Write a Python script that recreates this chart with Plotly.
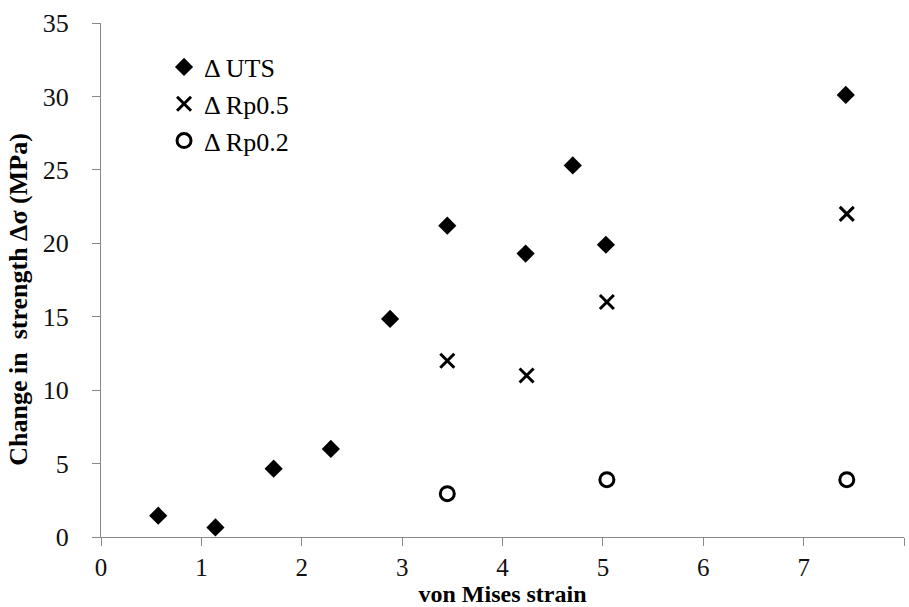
import plotly.graph_objects as go

uts_x = [0.57, 1.14, 1.72, 2.29, 2.88, 3.45, 4.23, 4.70, 5.03, 7.42]
uts_y = [1.45, 0.65, 4.65, 6.0, 14.85, 21.2, 19.3, 25.3, 19.9, 30.1]
rp05_x = [3.45, 4.24, 5.04, 7.43]
rp05_y = [12.0, 11.0, 16.0, 22.0]
rp02_x = [3.45, 5.04, 7.43]
rp02_y = [2.95, 3.9, 3.9]

FONT = "Liberation Serif, Times New Roman, serif"

fig = go.Figure()
fig.add_trace(go.Scatter(x=uts_x, y=uts_y, mode="markers", name="\u0394 UTS",
                         marker=dict(symbol="diamond", size=14, color="black")))
fig.add_trace(go.Scatter(x=rp05_x, y=rp05_y, mode="markers", name="\u0394 Rp0.5",
                         marker=dict(symbol="x-thin", size=14, color="black",
                                     line=dict(width=3, color="black"))))
fig.add_trace(go.Scatter(x=rp02_x, y=rp02_y, mode="markers", name="\u0394 Rp0.2",
                         marker=dict(symbol="circle-open", size=14, color="black",
                                     line=dict(width=3, color="black"))))

axis_common = dict(showgrid=False, zeroline=False, showline=True, linecolor="#888888",
                   linewidth=1, ticks="outside", ticklen=8, tickcolor="#888888",
                   automargin=False)

fig.update_layout(
    width=909, height=607,
    margin=dict(l=101, r=5, t=23, b=70),
    paper_bgcolor="white", plot_bgcolor="white",
    xaxis=dict(range=[0, 8], dtick=1, ticklabelstandoff=0,
               tickfont=dict(family=FONT, size=25, color="#111111"),
               title=dict(text="<b>von Mises strain</b>", standoff=7,
                          font=dict(family=FONT, size=24, color="black")),
               **axis_common),
    yaxis=dict(range=[0, 35], dtick=5, ticklabelstandoff=18,
               tickfont=dict(family=FONT, size=26, color="#111111"),
               title=dict(text="<b>Change in  strength \u0394\u03c3 (MPa)</b>&nbsp;&nbsp;&nbsp;&nbsp;&nbsp;&nbsp;",
                          standoff=7,
                          font=dict(family=FONT, size=26, color="black")),
               **axis_common),
    legend=dict(x=0.0785, y=0.96, xanchor="left", yanchor="top",
                font=dict(family=FONT, size=26, color="black"),
                bgcolor="rgba(0,0,0,0)", itemwidth=30, tracegroupgap=0),
    showlegend=True,
)

fig.write_html("out.html")
